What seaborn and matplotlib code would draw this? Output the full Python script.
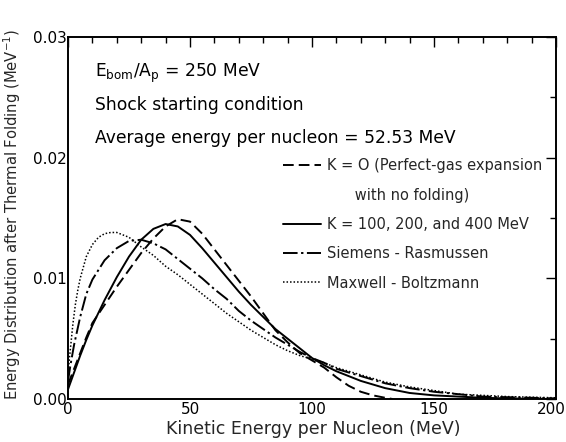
import numpy as np
import pandas as pd
import matplotlib
matplotlib.use("Agg")
import matplotlib.pyplot as plt
import matplotlib.transforms as mtransforms
from matplotlib.ticker import MultipleLocator, FormatStrFormatter
from matplotlib.lines import Line2D
import seaborn as sns

# ---------------- data ----------------
k0_x = [0, 2.5, 5, 7.5, 10, 15, 20, 25, 30, 35, 40, 45, 50, 55, 60, 65, 70, 75,
        80, 85, 90, 95, 100, 105, 110, 115, 120, 125, 130, 133]
k0_y = [0.0012, 0.0025, 0.0038, 0.0051, 0.0063, 0.0078, 0.0093, 0.0107, 0.0121,
        0.0133, 0.0143, 0.0149, 0.0147, 0.0137, 0.0124, 0.0111, 0.0098, 0.0085,
        0.0071, 0.0057, 0.0047, 0.0038, 0.0032, 0.0026, 0.0018, 0.0011, 0.0006,
        0.0003, 0.0001, 0.0]

kf_x = [0, 2.5, 5, 7.5, 10, 15, 20, 25, 30, 35, 40, 45, 50, 55, 60, 65, 70, 75,
        80, 85, 90, 95, 100, 105, 110, 115, 120, 130, 140, 150, 160, 170, 180,
        190, 200]
kf_y = [0.0008, 0.0022, 0.0036, 0.0049, 0.0061, 0.0082, 0.0101, 0.0118, 0.0132,
        0.0141, 0.0145, 0.0143, 0.0136, 0.0125, 0.0113, 0.0101, 0.0089, 0.0078,
        0.0068, 0.0058, 0.0050, 0.0042, 0.0034, 0.0028, 0.0023, 0.0019, 0.0015,
        0.0009, 0.0005, 0.0003, 0.0002, 0.0001, 0.00005, 0.00002, 0.0]

sr_x = [0, 1, 2.5, 5, 7.5, 10, 12.5, 15, 20, 25, 30, 35, 40, 45, 50, 55, 60, 65,
        70, 75, 80, 85, 90, 95, 100, 105, 110, 120, 130, 140, 150, 160, 170, 180,
        190, 200]
sr_y = [0.0015, 0.0028, 0.0045, 0.0068, 0.0087, 0.0099, 0.0107, 0.0115, 0.0125,
        0.0131, 0.0132, 0.0129, 0.0124, 0.0116, 0.0108, 0.0100, 0.0091, 0.0083,
        0.0073, 0.0065, 0.0058, 0.0051, 0.0045, 0.0039, 0.0034, 0.0030, 0.0025,
        0.0019, 0.0013, 0.0009, 0.0006, 0.0004, 0.0002, 0.00015, 0.0001, 0.00005]

mb_x = [0, 0.5, 1, 2, 3, 4, 5, 7.5, 10, 12.5, 15, 17.5, 20, 25, 30, 35, 40, 45,
        50, 55, 60, 65, 70, 75, 80, 85, 90, 95, 100, 105, 110, 120, 130, 140, 150,
        160, 170, 180, 190, 200]
mb_y = [0.0020, 0.0032, 0.0042, 0.0062, 0.0078, 0.0090, 0.0100, 0.0118, 0.0128,
        0.0134, 0.0137, 0.0138, 0.0138, 0.0134, 0.0126, 0.0119, 0.0110, 0.0103,
        0.0095, 0.0087, 0.0079, 0.0071, 0.0064, 0.0057, 0.0051, 0.0045, 0.0040,
        0.0036, 0.0033, 0.0030, 0.0026, 0.0020, 0.0014, 0.0010, 0.0007, 0.0004,
        0.0003, 0.0002, 0.00015, 0.0001]

labels = ["K = O (Perfect-gas expansion", "      with no folding)",
          "K = 100, 200, and 400 MeV", "Siemens - Rasmussen",
          "Maxwell - Boltzmann"]
header_lines = [r"E$_\mathrm{bom}$/A$_\mathrm{p}$ = 250 MeV",
                "Shock starting condition",
                "Average energy per nucleon = 52.53 MeV"]
x_label = "Kinetic Energy per Nucleon (MeV)"
y_label = r"Energy Distribution after Thermal Folding (MeV$^{-1}$)"

# ---------------- style ----------------
sns.set_style("white")
plt.rcParams["font.family"] = ["DejaVu Sans"]
plt.rcParams["mathtext.default"] = "regular"

fig = plt.figure(figsize=(5.66, 4.42), dpi=100)
ax = fig.add_axes([68 / 566, 1 - 399 / 442, 488 / 566, 362 / 442])

styles = {
    "k0": dict(lw=1.4, dashes=(5.5, 2.6)),
    "kf": dict(lw=1.4, dashes=()),
    "sr": dict(lw=1.4, dashes=(7.5, 1.8, 1.2, 1.8)),
    "mb": dict(lw=1.1, dashes=(1.0, 1.3)),
}

series = [("k0", k0_x, k0_y), ("kf", kf_x, kf_y), ("sr", sr_x, sr_y), ("mb", mb_x, mb_y)]
for key, xs, ys in series:
    df = pd.DataFrame({"x": xs, "y": ys})
    st = styles[key]
    sns.lineplot(data=df, x="x", y="y", ax=ax, color="black", lw=st["lw"],
                 estimator=None, sort=True)
    ln = ax.lines[-1]
    if st["dashes"]:
        ln.set_dashes(st["dashes"])

ax.set_xlim(0, 200)
ax.set_ylim(0, 0.03)

ax.xaxis.set_major_locator(MultipleLocator(50))
ax.xaxis.set_minor_locator(MultipleLocator(10))
ax.yaxis.set_major_locator(MultipleLocator(0.01))
ax.yaxis.set_minor_locator(MultipleLocator(0.005))
ax.xaxis.set_major_formatter(FormatStrFormatter("%d"))
ax.yaxis.set_major_formatter(FormatStrFormatter("%.2f"))

ax.tick_params(which="both", direction="in", top=True, right=True,
               colors="black", width=1.0)
ax.tick_params(which="major", length=7, labelsize=11, pad=2)
ax.tick_params(which="minor", length=4.5)
ax.tick_params(axis="y", which="major", pad=1)

for s in ax.spines.values():
    s.set_color("black")
    s.set_linewidth(1.4)

ax.set_xlabel(x_label, fontsize=12.5)
ax.set_ylabel(y_label, fontsize=10.6)
ax.xaxis.set_label_coords(0.503, -0.058)
ax.yaxis.set_label_coords(-0.093, 0.51)

# header text
hy = [0.02700, 0.02435, 0.02165]
for t, yy in zip(header_lines, hy):
    ax.text(11, yy, t, fontsize=12.3, va="center", ha="left", color="black")

# legend
handles = [
    Line2D([], [], color="black", lw=1.4, dashes=styles["k0"]["dashes"]),
    Line2D([], [], color="none", lw=0),
    Line2D([], [], color="black", lw=1.4),
    Line2D([], [], color="black", lw=1.4, dashes=styles["sr"]["dashes"]),
    Line2D([], [], color="black", lw=1.1, dashes=styles["mb"]["dashes"]),
]
leg = ax.legend(handles, labels, loc="upper left",
                bbox_to_anchor=((283 - 68) / 488, (399 - 159) / 361),
                frameon=False, fontsize=10.5, handlelength=2.6,
                handletextpad=0.45, labelspacing=0.98, borderpad=0,
                borderaxespad=0)

# nudge the last x tick label ("200") slightly left so it stays inside the figure
fig.canvas.draw()
last_tick = ax.xaxis.get_major_ticks()[-1]
for t in ax.xaxis.get_major_ticks():
    if abs(t.get_loc() - 200) < 1e-6:
        last_tick = t
off = mtransforms.ScaledTranslation(-5 / 100, 0, fig.dpi_scale_trans)
last_tick.label1.set_transform(last_tick.label1.get_transform() + off)

fig.savefig("out.png", dpi=100, facecolor="white")
